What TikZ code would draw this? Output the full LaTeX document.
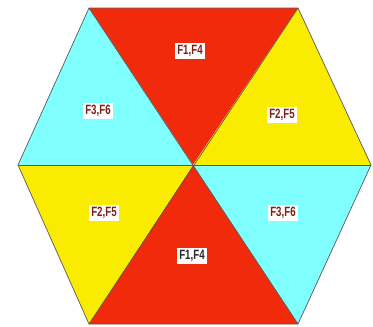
\documentclass[tikz,border=0pt]{standalone}
\usepackage{fontspec}
\newfontfamily\labfont[FakeStretch=0.72]{Liberation Sans}
\definecolor{hred}{RGB}{242,42,12}
\definecolor{hyel}{RGB}{250,236,0}
\definecolor{hcyan}{RGB}{128,255,255}
\definecolor{labred}{RGB}{130,30,20}
\definecolor{labgray}{RGB}{40,40,40}
\begin{document}
\begin{tikzpicture}[x=1pt,y=-1pt,
  tri/.style={draw=black!65,line width=0.7pt,line join=round},
  lab/.style={fill=white,inner xsep=2.5pt,inner ysep=2.5pt,font=\labfont\bfseries\fontsize{13.5}{15}\selectfont,text=labred}]
\useasboundingbox (0,0) rectangle (373,327);
\coordinate (C) at (193,165);
\coordinate (TL) at (89,8);
\coordinate (TR) at (298,8);
\coordinate (R) at (371,165);
\coordinate (BR) at (298,324);
\coordinate (BL) at (89,324);
\coordinate (L) at (18,165);
\fill[hred] (TL) -- (TR) -- (C) -- cycle;
\fill[hyel] (TR) -- (R) -- (C) -- cycle;
\fill[hcyan] (R) -- (BR) -- (C) -- cycle;
\fill[hred] (BR) -- (BL) -- (C) -- cycle;
\fill[hyel] (BL) -- (L) -- (C) -- cycle;
\fill[hcyan] (L) -- (TL) -- (C) -- cycle;
\draw[tri] (TL) -- (TR) -- (R) -- (BR) -- (BL) -- (L) -- cycle;
\draw[tri] (TL) -- (BR);
\draw[tri] (TR) -- (BL);
\draw[tri] (L) -- (R);
\node[lab] (a) at (190,51) {F1,F4};
\node[lab] (b) at (98,111) {F3,F6};
\node[lab] (c) at (282,115) {F2,F5};
\node[lab] (d) at (104,213) {F2,F5};
\node[lab] (e) at (283,213) {F3,F6};
\node[lab,text=labgray] (f) at (192,256) {F1,F4};
\end{tikzpicture}
\end{document}
